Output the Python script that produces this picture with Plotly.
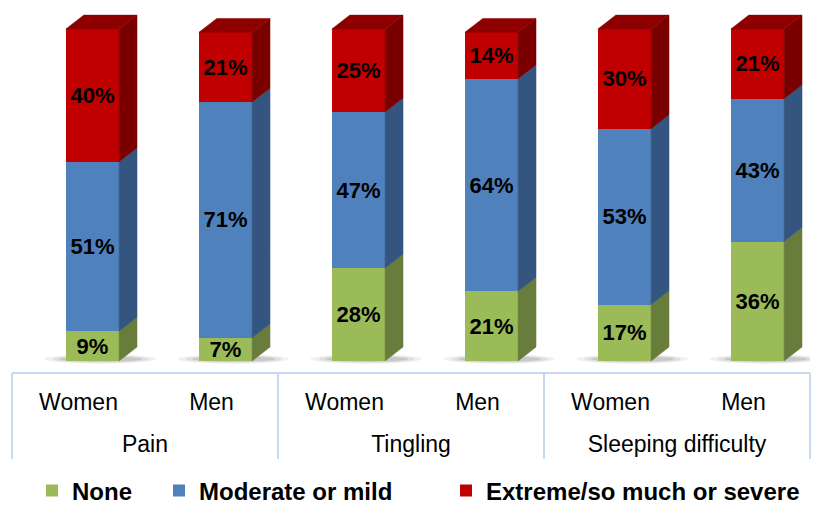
import plotly.graph_objects as go

# Survey results: share of respondents per symptom severity
groups = ["Pain", "Tingling", "Sleeping difficulty"]
sexes = ["Women", "Men", "Women", "Men", "Women", "Men"]
none_pct = [9, 7, 28, 21, 17, 36]
moderate_pct = [51, 71, 47, 64, 53, 43]
extreme_pct = [40, 21, 25, 14, 30, 21]

series_names = ["None", "Moderate or mild", "Extreme/so much or severe"]
series_values = [none_pct, moderate_pct, extreme_pct]
front_colors = ["#9BBB59", "#4F81BD", "#C00000"]
side_colors = ["#687D3B", "#34557F", "#7A0000"]
top_color = "#8E0000"

FONT = "Liberation Sans, Arial, sans-serif"
BAR_W = 0.4        # width of the front face, in category units
BAR_OFF = -0.095   # front face start relative to the category centre
DX = 0.135         # horizontal depth of the extrusion (category units)
DY = 4.2           # vertical depth of the extrusion (percent units)

n = len(sexes)
pos = list(range(n))
per_group = n // len(groups)
group_centres = [g * per_group + (per_group - 1) / 2 for g in range(len(groups))]
group_edges = [g * per_group - 0.5 for g in range(len(groups) + 1)]

fig = go.Figure()

# Soft floor shadows under each column: thin layered ellipses, darker near the base
shadow_layers = [(0.16, 0.14, 1.4, 0.07), (0.10, 0.09, 1.1, 0.09), (0.05, 0.04, 0.8, 0.12)]
for i in pos:
    xl = i + BAR_OFF
    xr = xl + BAR_W + DX
    for grow_l, grow_r, half_h, alpha in shadow_layers:
        fig.add_shape(type="circle", xref="x", yref="y",
                      x0=xl - grow_l, x1=xr + grow_r,
                      y0=0.6 - half_h, y1=0.6 + half_h,
                      fillcolor=f"rgba(40,40,40,{alpha})", line=dict(width=0),
                      layer="below")

# Front faces: stacked bars
legend_ids = ["legend", "legend2", "legend3"]
for name, vals, col, lg in zip(series_names, series_values, front_colors, legend_ids):
    fig.add_trace(go.Bar(
        x=pos, y=vals, name=name,
        offset=BAR_OFF, width=BAR_W,
        marker=dict(color=col, line=dict(width=0)),
        text=vals, texttemplate="%{y}%", textposition="inside",
        insidetextanchor="middle", constraintext="none",
        textfont=dict(family=FONT, size=22, color="black", weight="bold"),
        legend=lg, hoverinfo="skip",
    ))

# Side faces (and the top of each stack) give the columns depth
base = [0] * n
for s, vals in enumerate(series_values):
    xs, ys = [], []
    for i in pos:
        xr = i + BAR_OFF + BAR_W
        y0, y1 = base[i], base[i] + vals[i]
        xs += [xr, xr + DX, xr + DX, xr, xr, None]
        ys += [y0, y0 + DY, y1 + DY, y1, y0, None]
    fig.add_trace(go.Scatter(
        x=xs, y=ys, xaxis="x2", mode="lines", fill="toself",
        fillcolor=side_colors[s], line=dict(width=0.5, color=side_colors[s]),
        hoverinfo="skip", showlegend=False,
    ))
    base = [b + v for b, v in zip(base, vals)]

xs, ys = [], []
for i in pos:
    xl = i + BAR_OFF
    xr = xl + BAR_W
    yt = base[i]
    xs += [xl, xl + DX, xr + DX, xr, xl, None]
    ys += [yt, yt + DY, yt + DY, yt, yt, None]
fig.add_trace(go.Scatter(
    x=xs, y=ys, xaxis="x2", mode="lines", fill="toself",
    fillcolor=top_color, line=dict(width=0.5, color=top_color),
    hoverinfo="skip", showlegend=False,
))

W, H = 828, 508
plot_bottom = 372
dom = [12 / W, 810 / W]
grid_col = "#C6D9F1"
xrange = [-0.5, n - 0.5]

def legend_at(px):
    return dict(orientation="h", xref="container", yref="container",
                x=px / W, xanchor="left", y=(H - 491) / H, yanchor="middle",
                font=dict(family=FONT, size=24, color="black", weight="bold"),
                bgcolor="rgba(0,0,0,0)", itemclick=False, itemdoubleclick=False)

fig.update_layout(
    width=W, height=H,
    margin=dict(l=0, r=0, t=0, b=H - plot_bottom),
    paper_bgcolor="white", plot_bgcolor="white",
    barmode="stack",
    # lower level: Women / Men under each column
    xaxis=dict(domain=dom, range=xrange, automargin=False,
               tickmode="array", tickvals=pos, ticktext=sexes,
               showline=True, linecolor=grid_col, linewidth=2,
               showgrid=False, zeroline=False, ticks="",
               ticklabelstandoff=8,
               tickfont=dict(family=FONT, size=23, color="black")),
    # upper level: symptom groups, with dividers between them
    xaxis2=dict(overlaying="x", anchor="y", side="bottom", domain=dom,
                range=xrange, automargin=False,
                tickmode="array", tickvals=group_centres, ticktext=groups,
                showline=False, showgrid=False, zeroline=False, ticks="",
                ticklabelstandoff=56,
                tickfont=dict(family=FONT, size=23, color="black"),
                minor=dict(tickmode="array", tickvals=group_edges,
                           ticks="outside", ticklen=86, tickwidth=2,
                           tickcolor=grid_col, showgrid=False)),
    yaxis=dict(range=[-3.3, 108.75], visible=False),
    legend=legend_at(32),
    legend2=legend_at(159),
    legend3=legend_at(446),
    showlegend=True,
)

fig.write_html("out.html")
